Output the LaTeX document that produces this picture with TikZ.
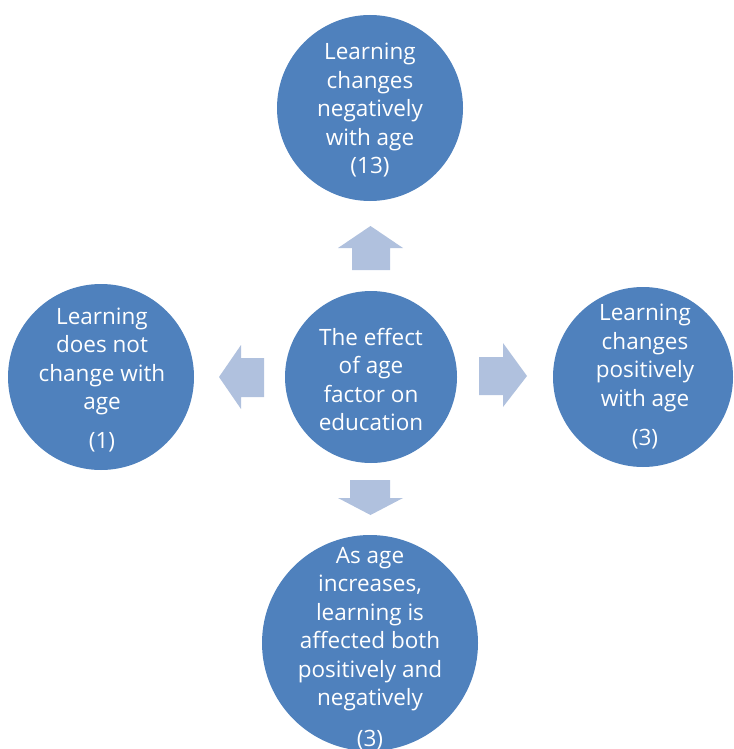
\documentclass[tikz,border=0pt]{standalone}
\usepackage{fontspec}
\setmainfont{Open Sans}
\definecolor{circblue}{HTML}{4F81BD}
\definecolor{arrblue}{HTML}{B0C1DE}
\tikzset{
  bubble/.style={circle, fill=circblue, draw=none, inner sep=0pt},
  bubtext/.style={text=white, align=center, font=\fontsize{22.5}{28.5}\selectfont, inner sep=0pt},
  blockarrow/.style={fill=arrblue, draw=none}
}
\begin{document}
\begin{tikzpicture}[x=1pt,y=-1pt]
\useasboundingbox (0,0) rectangle (733,749);
\clip (0,0) rectangle (733,749);
% circles
\node[bubble, minimum size=186pt] (top) at (370,108) {};
\node[bubble, minimum size=172pt] (ctr) at (371,377) {};
\node[bubble, minimum size=186pt] (lft) at (101,377) {};
\node[bubble, minimum size=180pt] (rgt) at (643,377) {};
\node[bubble, minimum size=216pt] (bot) at (370,643) {};
% texts
\node[bubtext] (topT) at (370,110.5) {Learning\\changes\\negatively\\with age\\(13)};
\node[bubtext] (ctrT) at (371,379.5) {The effect\\of age\\factor on\\education};
\node[bubtext] (lftT) at (102,380) {Learning\\does not\\change with\\age\\[10.5pt](1)};
\node[bubtext] (rgtT) at (645,376.5) {Learning\\changes\\positively\\with age\\[10.5pt](3)};
\node[bubtext] (botT) at (370,648.5) {As age\\increases,\\learning is\\affected both\\positively and\\negatively\\[12pt](3)};
% block arrows
\fill[blockarrow] (352,270) -- (352,248) -- (338,248) -- (370.5,226) -- (403,248) -- (390,248) -- (390,270) -- cycle;
\fill[blockarrow] (350,480) -- (390,480) -- (390,498) -- (403,498) -- (370.5,515) -- (338,498) -- (350,498) -- cycle;
\fill[blockarrow] (264,358) -- (241,358) -- (241,345) -- (219,377) -- (241,409) -- (241,397) -- (264,397) -- cycle;
\fill[blockarrow] (479,357) -- (503,357) -- (503,343) -- (527,376) -- (503,407) -- (503,395) -- (479,395) -- cycle;
\end{tikzpicture}
\end{document}
